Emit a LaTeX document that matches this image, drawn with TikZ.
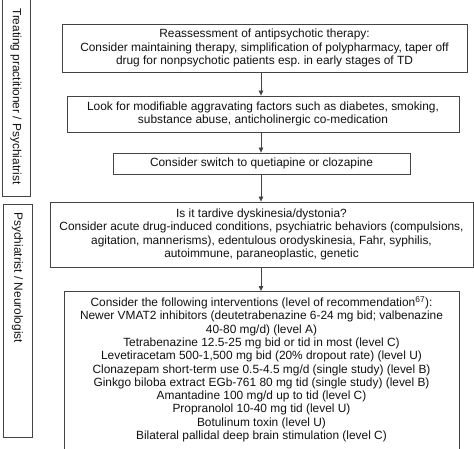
\documentclass[tikz,border=0pt]{standalone}
\usepackage{fontspec}
\setmainfont{Liberation Sans}
\usetikzlibrary{arrows.meta}
\definecolor{linegray}{HTML}{444444}
\definecolor{txt}{HTML}{111111}
\newcommand{\fs}{\fontsize{11.9}{13.3}\selectfont}
\begin{document}
\begin{tikzpicture}[x=1pt,y=-1pt,
  lanebox/.style={draw=linegray, line width=0.8pt, inner sep=0pt, anchor=north west},
  lanetext/.style={font=\fs, text=txt, rotate=-90, anchor=west, inner sep=0pt},
  box/.style={draw=linegray, line width=0.8pt, fill=white, align=center, font=\fs, text=txt, inner sep=0pt},
  arr/.style={draw=linegray, line width=0.8pt, -{Triangle[length=5pt,width=4.5pt]}}]
\useasboundingbox (0,0) rectangle (474,449);
% lanes
\node[lanebox, minimum width=28pt, minimum height=200pt] (l1) at (2,-4) {};
\node[lanetext] (t1) at (16,8) {Treating practitioner / Psychiatrist};
\node[lanebox, minimum width=29pt, minimum height=233pt] (l2) at (3,204) {};
\node[lanetext] (t2) at (17.5,212) {Psychiatrist / Neurologist};
% boxes
\node[box, minimum width=405pt, minimum height=48pt] (b1) at (264.5,48)
 {Reassessment of antipsychotic therapy:\\Consider maintaining therapy, simplification of polypharmacy, taper off\\drug for nonpsychotic patients esp.\ in early stages of TD};
\node[box, minimum width=392pt, minimum height=36pt] (b2) at (263,114)
 {Look for modifiable aggravating factors such as diabetes, smoking,\\substance abuse, anticholinergic co-medication};
\node[box, minimum width=297pt, minimum height=21pt] (b3) at (261.5,163.5)
 {Consider switch to quetiapine or clozapine};
\node[box, minimum width=423pt, minimum height=65pt] (b4) at (261.5,234.5)
 {Is it tardive dyskinesia/dystonia?\\Consider acute drug-induced conditions, psychiatric behaviors (compulsions,\\agitation, mannerisms), edentulous orodyskinesia, Fahr, syphilis,\\autoimmune, paraneoplastic, genetic};
\node[box, anchor=north, minimum width=395pt, minimum height=170pt] (b5) at (261.5,291)
 {\parbox[c][166pt][t]{392pt}{\centering\fs\vspace*{3pt}Consider the following interventions (level of recommendation\textsuperscript{67}):\\
 Newer VMAT2 inhibitors (deutetrabenazine 6-24 mg bid; valbenazine\\
 40-80 mg/d) (level A)\\
 Tetrabenazine 12.5-25 mg bid or tid in most (level C)\\
 Levetiracetam 500-1,500 mg bid (20\% dropout rate) (level U)\\
 Clonazepam short-term use 0.5-4.5 mg/d (single study) (level B)\\
 Ginkgo biloba extract EGb-761 80 mg tid (single study) (level B)\\
 Amantadine 100 mg/d up to tid (level C)\\
 Propranolol 10-40 mg tid (level U)\\
 Botulinum toxin (level U)\\
 Bilateral pallidal deep brain stimulation (level C)}};
% arrows
\coordinate (ax) at (261,0);
\draw[arr] (b1.south -| ax) -- (b2.north -| ax);
\draw[arr] (b2.south -| ax) -- (b3.north -| ax);
\draw[arr] (b3.south -| ax) -- (b4.north -| ax);
\draw[arr] (b4.south -| ax) -- (b5.north -| ax);
\end{tikzpicture}
\end{document}
